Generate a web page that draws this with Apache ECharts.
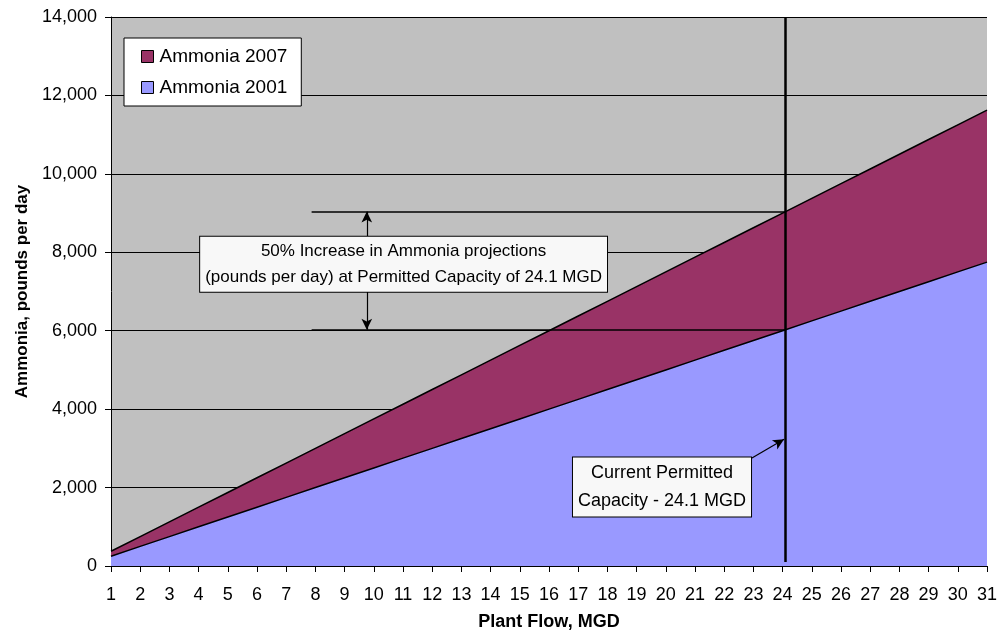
<!DOCTYPE html>
<html>
<head>
<meta charset="utf-8">
<script src="https://cdn.jsdelivr.net/npm/echarts@6/dist/echarts.min.js"></script>
<style>
  html, body { margin: 0; padding: 0; background: #ffffff; }
  #chart { width: 998px; height: 632px; }
</style>
</head>
<body>
<div id="chart"></div>
<script>
// Plant flow (MGD) on the horizontal axis
const flow = [1, 2, 3, 4, 5, 6, 7, 8, 9, 10, 11, 12, 13, 14, 15, 16, 17, 18, 19, 20,
              21, 22, 23, 24, 25, 26, 27, 28, 29, 30, 31];

// Ammonia loading, pounds per day
const ammonia2001 = [250, 500, 750, 1000, 1250, 1500, 1750, 2000, 2250, 2500, 2750, 3000,
                     3250, 3500, 3750, 4000, 4250, 4500, 4750, 5000, 5250, 5500, 5750, 6000,
                     6250, 6500, 6750, 7000, 7250, 7500, 7750];
const ammonia2007 = [375, 750, 1125, 1500, 1875, 2250, 2625, 3000, 3375, 3750, 4125, 4500,
                     4875, 5250, 5625, 6000, 6375, 6750, 7125, 7500, 7875, 8250, 8625, 9000,
                     9375, 9750, 10125, 10500, 10875, 11250, 11625];

// Permitted capacity and the projected loads there
const permittedCapacity = 24.1;
const loadAtCapacity2001 = 6025;
const loadAtCapacity2007 = 9037.5;

// Y axis ticks
const yTicks = [0, 2000, 4000, 6000, 8000, 10000, 12000, 14000];

const pairs = (xs, ys) => xs.map((x, i) => [x, ys[i]]);

const FONT = 'Liberation Sans, Arial, sans-serif';

const chart = echarts.init(document.getElementById('chart'), null, { renderer: 'canvas' });

const boxLabel = {
  show: true,
  position: 'inside',
  fontFamily: FONT,
  fontSize: 17,
  lineHeight: 26,
  color: '#000',
  backgroundColor: '#f8f8f8',
  borderColor: '#000',
  borderWidth: 1,
  padding: [2, 5, 1, 5],
  align: 'center',
  verticalAlign: 'middle'
};

chart.setOption({
  animation: false,
  backgroundColor: '#ffffff',
  grid: {
    left: 111, right: 11, top: 17, bottom: 66,
    outerBoundsMode: 'none',
    containLabel: false,
    show: true, backgroundColor: '#C0C0C0', borderWidth: 0
  },
  legend: {
    data: ['Ammonia 2007', 'Ammonia 2001'],
    orient: 'vertical',
    left: 124, top: 38,
    width: 175,
    padding: [9, 14, 9, 17],
    itemGap: 12,
    itemWidth: 12, itemHeight: 12,
    icon: 'rect',
    backgroundColor: '#ffffff',
    borderColor: '#000000',
    borderWidth: 1,
    itemStyle: { borderColor: '#000', borderWidth: 1 },
    textStyle: { fontFamily: FONT, fontSize: 19, color: '#000', padding: [0, 0, 0, 1] }
  },
  xAxis: {
    type: 'value',
    min: 1, max: 31, interval: 1,
    name: 'Plant Flow, MGD',
    nameLocation: 'middle',
    nameGap: 47,
    nameTextStyle: { fontFamily: FONT, fontSize: 18, fontWeight: 'bold', color: '#000' },
    axisLine: { show: true, lineStyle: { color: '#000', width: 1 } },
    axisTick: { show: true, length: 6, lineStyle: { color: '#000' } },
    axisLabel: { fontFamily: FONT, fontSize: 18, color: '#000', margin: 20 },
    splitLine: { show: false }
  },
  yAxis: {
    type: 'value',
    min: yTicks[0], max: yTicks[yTicks.length - 1], interval: 2000,
    name: 'Ammonia, pounds per day',
    nameLocation: 'middle',
    nameGap: 80,
    nameTextStyle: { fontFamily: FONT, fontSize: 17, fontWeight: 'bold', color: '#000' },
    axisLine: { show: true, lineStyle: { color: '#000', width: 1 } },
    axisTick: { show: true, length: 6, lineStyle: { color: '#000' } },
    axisLabel: {
      fontFamily: FONT, fontSize: 18, color: '#000', margin: 14,
      formatter: v => v.toLocaleString('en-US')
    },
    splitLine: { show: true, lineStyle: { color: '#000', width: 1 } }
  },
  series: [
    {
      name: 'Ammonia 2007',
      type: 'line',
      data: pairs(flow, ammonia2007),
      showSymbol: false,
      symbol: 'none',
      itemStyle: { color: '#993366' },
      lineStyle: { color: '#000', width: 1.5 },
      areaStyle: { color: '#993366', opacity: 1 },
      z: 2
    },
    {
      name: 'Ammonia 2001',
      type: 'line',
      data: pairs(flow, ammonia2001),
      showSymbol: false,
      symbol: 'none',
      itemStyle: { color: '#9999FF' },
      lineStyle: { color: '#000', width: 1.5 },
      areaStyle: { color: '#9999FF', opacity: 1 },
      z: 3,
      markLine: {
        silent: true,
        symbol: 'none',
        label: { show: false },
        z: 6,
        data: [
          // permitted capacity
          [
            { coord: [permittedCapacity, 100], lineStyle: { color: '#000', width: 2.5, type: 'solid' } },
            { coord: [permittedCapacity, 14000] }
          ],
          // projected loads at permitted capacity
          [
            { coord: [7.87, loadAtCapacity2007], lineStyle: { color: '#000', width: 1.5, type: 'solid' } },
            { coord: [permittedCapacity, loadAtCapacity2007] }
          ],
          [
            { coord: [7.87, loadAtCapacity2001], lineStyle: { color: '#000', width: 1.5, type: 'solid' } },
            { coord: [permittedCapacity, loadAtCapacity2001] }
          ],
          // increase arrow
          [
            { coord: [9.76, loadAtCapacity2001], symbol: 'arrow', symbolSize: [8, 11],
              lineStyle: { color: '#000', width: 1.2, type: 'solid' } },
            { coord: [9.76, loadAtCapacity2007], symbol: 'arrow', symbolSize: [8, 11] }
          ],
          // pointer to the capacity line
          [
            { coord: [22.95, 2754], symbol: 'none',
              lineStyle: { color: '#000', width: 1.2, type: 'solid' } },
            { coord: [24.05, 3231], symbol: 'arrow', symbolSize: [8, 11] }
          ]
        ]
      },
      markPoint: {
        silent: true,
        z: 10,
        symbol: 'rect',
        symbolSize: 0,
        data: [
          {
            coord: [11.02, 7692],
            label: Object.assign({}, boxLabel, {
              formatter: '50% Increase in Ammonia projections\n(pounds per day) at Permitted Capacity of 24.1 MGD'
            })
          },
          {
            coord: [19.87, 2015],
            label: Object.assign({}, boxLabel, {
              fontSize: 18,
              lineHeight: 28,
              padding: [2, 5, 1, 5],
              formatter: 'Current Permitted\nCapacity - 24.1 MGD'
            })
          }
        ]
      }
    }
  ]
});
</script>
</body>
</html>
